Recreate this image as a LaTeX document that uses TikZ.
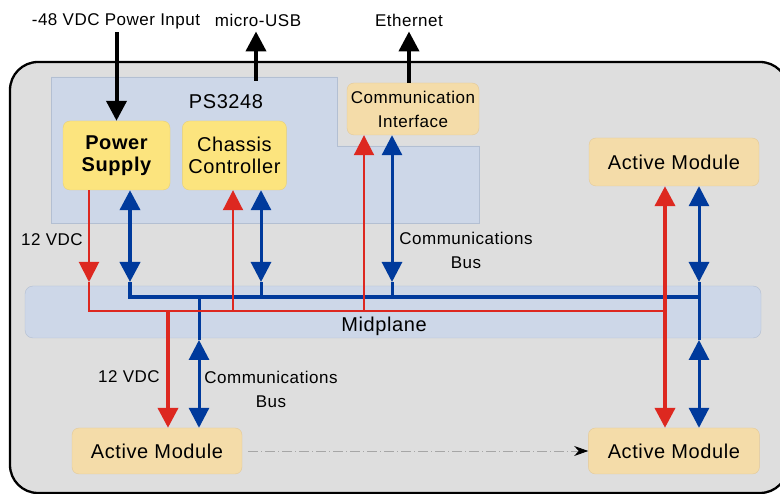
\documentclass[tikz,border=0pt]{standalone}
\usepackage{fontspec}
\setmainfont{Liberation Sans}[LetterSpace=3]
\usepackage{xcolor}
\usetikzlibrary{arrows.meta, positioning}
\definecolor{chassis}{HTML}{DEDEDE}
\definecolor{psblue}{HTML}{CDD7E8}
\definecolor{psedge}{HTML}{B3BFD2}
\definecolor{ctrlfill}{HTML}{FCE47E}
\definecolor{ctrledge}{HTML}{E6CF7A}
\definecolor{modfill}{HTML}{F4DCA9}
\definecolor{modedge}{HTML}{E3C998}
\definecolor{railred}{HTML}{DD2820}
\definecolor{busblue}{HTML}{003A9C}
\tikzstyle{diagram}=[x=1pt, y=-1pt, >={Triangle[length=20pt, width=20pt]}]
\tikzstyle{module}=[draw=modedge, fill=modfill, rounded corners=7pt, inner sep=0pt, align=center, font=\fontsize{20}{22}\selectfont]
\tikzstyle{ctrl}=[module, draw=ctrledge, fill=ctrlfill]
\tikzstyle{lbl}=[inner sep=0pt, align=center, font=\fontsize{17}{24}\selectfont]
\tikzstyle{feed}=[draw=railred, line width=2pt]
\tikzstyle{feedthick}=[feed, line width=4pt]
\tikzstyle{bus}=[draw=busblue, line width=3pt]
\tikzstyle{busthick}=[bus, line width=4pt]
\tikzstyle{ext}=[draw=black, line width=4pt]

\begin{document}
\begin{tikzpicture}[diagram]
\useasboundingbox (0,0) rectangle (780,494);
\clip (0,0) rectangle (780,494);
\draw[fill=chassis, line width=2.3pt, rounded corners=28pt] (10,62) rectangle (788,493);
\draw[fill=psblue, draw=psedge] (51,77) -- (337,77) -- (337,146) -- (479,146) -- (479,223) -- (51,223) -- cycle;
\node[draw=psedge, fill=psblue, rounded corners=8pt, minimum width=736pt, minimum height=52pt] (mid) at (393,312) {};
\node[lbl, font=\fontsize{20}{22}\selectfont] (midlbl) at (384,326) {Midplane};
\node[lbl, font=\fontsize{20}{22}\selectfont] (ps3248) at (226,102) {PS3248};

\node[ctrl, minimum width=107pt, minimum height=69pt, font=\fontsize{20}{22}\selectfont\bfseries] (ps) at (116.5,155.5) {Power\\Supply};
\node[ctrl, minimum width=104pt, minimum height=69pt, right=12pt of ps] (cc) {Chassis\\Controller};
\node[module, minimum width=132pt, minimum height=52pt, font=\fontsize{17}{24}\selectfont] (ci) at (413,109) {Communication\\Interface};
\node[module, minimum width=170pt, minimum height=48pt] (amtop) at (674,162) {Active Module};
\node[module, minimum width=170pt, minimum height=46pt] (amleft) at (157,451) {Active Module};
\node[module, minimum width=171pt, minimum height=46pt, right=346pt of amleft] (amright) {Active Module};

\node[lbl] (pin) at (116,21.5) {-48 VDC Power Input};
\node[lbl] (usb) at (258,20.5) {micro-USB};
\node[lbl] (eth) at (409,20.5) {Ethernet};
\node[lbl] (v12a) at (52,240) {12 VDC};
\node[lbl] (v12b) at (129,377) {12 VDC};
\node[lbl] (cbusa) at (466,250) {Communications\\Bus};
\node[lbl] (cbusb) at (271,389) {Communications\\Bus};

\coordinate (usbfoot) at (256,81);
\coordinate (railW) at (89,311);
\coordinate (railE) at (665,311);
\coordinate (busW) at (130,297);
\coordinate (busE) at (699,297);
\coordinate (dnTip) at (0,282);
\coordinate (upTip) at (0,340);
\coordinate (ccR) at (233,311);
\coordinate (ccB) at (261,297);
\coordinate (ciR) at (364,311);
\coordinate (ciB) at (392,297);
\coordinate (lfR) at (168,311);
\coordinate (lfB) at (199,297);

\draw[ext,->,shorten <=3pt] (pin.south -| ps.north) -- (ps.north);
\draw[ext,->,shorten >=4.5pt] (usbfoot) -- (usbfoot |- usb.south);
\draw[ext,->,shorten >=4.5pt] (ci.north -| eth.south) -- (eth.south);

\draw[busthick,<->] (ps.south -| busW) -- (busW |- dnTip);
\draw[busthick] (busW |- dnTip) -- (busW) -- (busE);
\draw[bus,<->] (cc.south -| ccB) -- (ccB |- dnTip);
\draw[bus] (ccB |- dnTip) -- (ccB);
\draw[bus,<->] (ci.south -| ciB) -- (ciB |- dnTip);
\draw[bus] (ciB |- dnTip) -- (ciB);
\draw[bus,<->] (amtop.south -| busE) -- (busE |- dnTip);
\draw[bus] (busE |- dnTip) -- (busE |- upTip);
\draw[bus,<->] (busE |- upTip) -- (amright.north -| busE);
\draw[bus] (lfB) -- (lfB |- upTip);
\draw[bus,<->] (lfB |- upTip) -- (amleft.north -| lfB);

\draw[feed,->] (ps.south -| railW) -- (railW |- dnTip);
\draw[feed] (railW |- dnTip) -- (railW) -- (railE);
\draw[feed,->] (ccR) -- (cc.south -| ccR);
\draw[feed,->] (ciR) -- (ci.south -| ciR);
\draw[feedthick,->] (lfR) -- (amleft.north -| lfR);
\draw[feedthick,<->] (amtop.south -| railE) -- (amright.north -| railE);

\draw[draw=gray!70, line width=0.8pt, dash pattern=on 10pt off 3pt on 1pt off 3pt,
  -{Stealth[length=14pt, width=10pt, color=black]}] ([xshift=6pt]amleft.east) -- (amright.west);
\end{tikzpicture}
\end{document}
